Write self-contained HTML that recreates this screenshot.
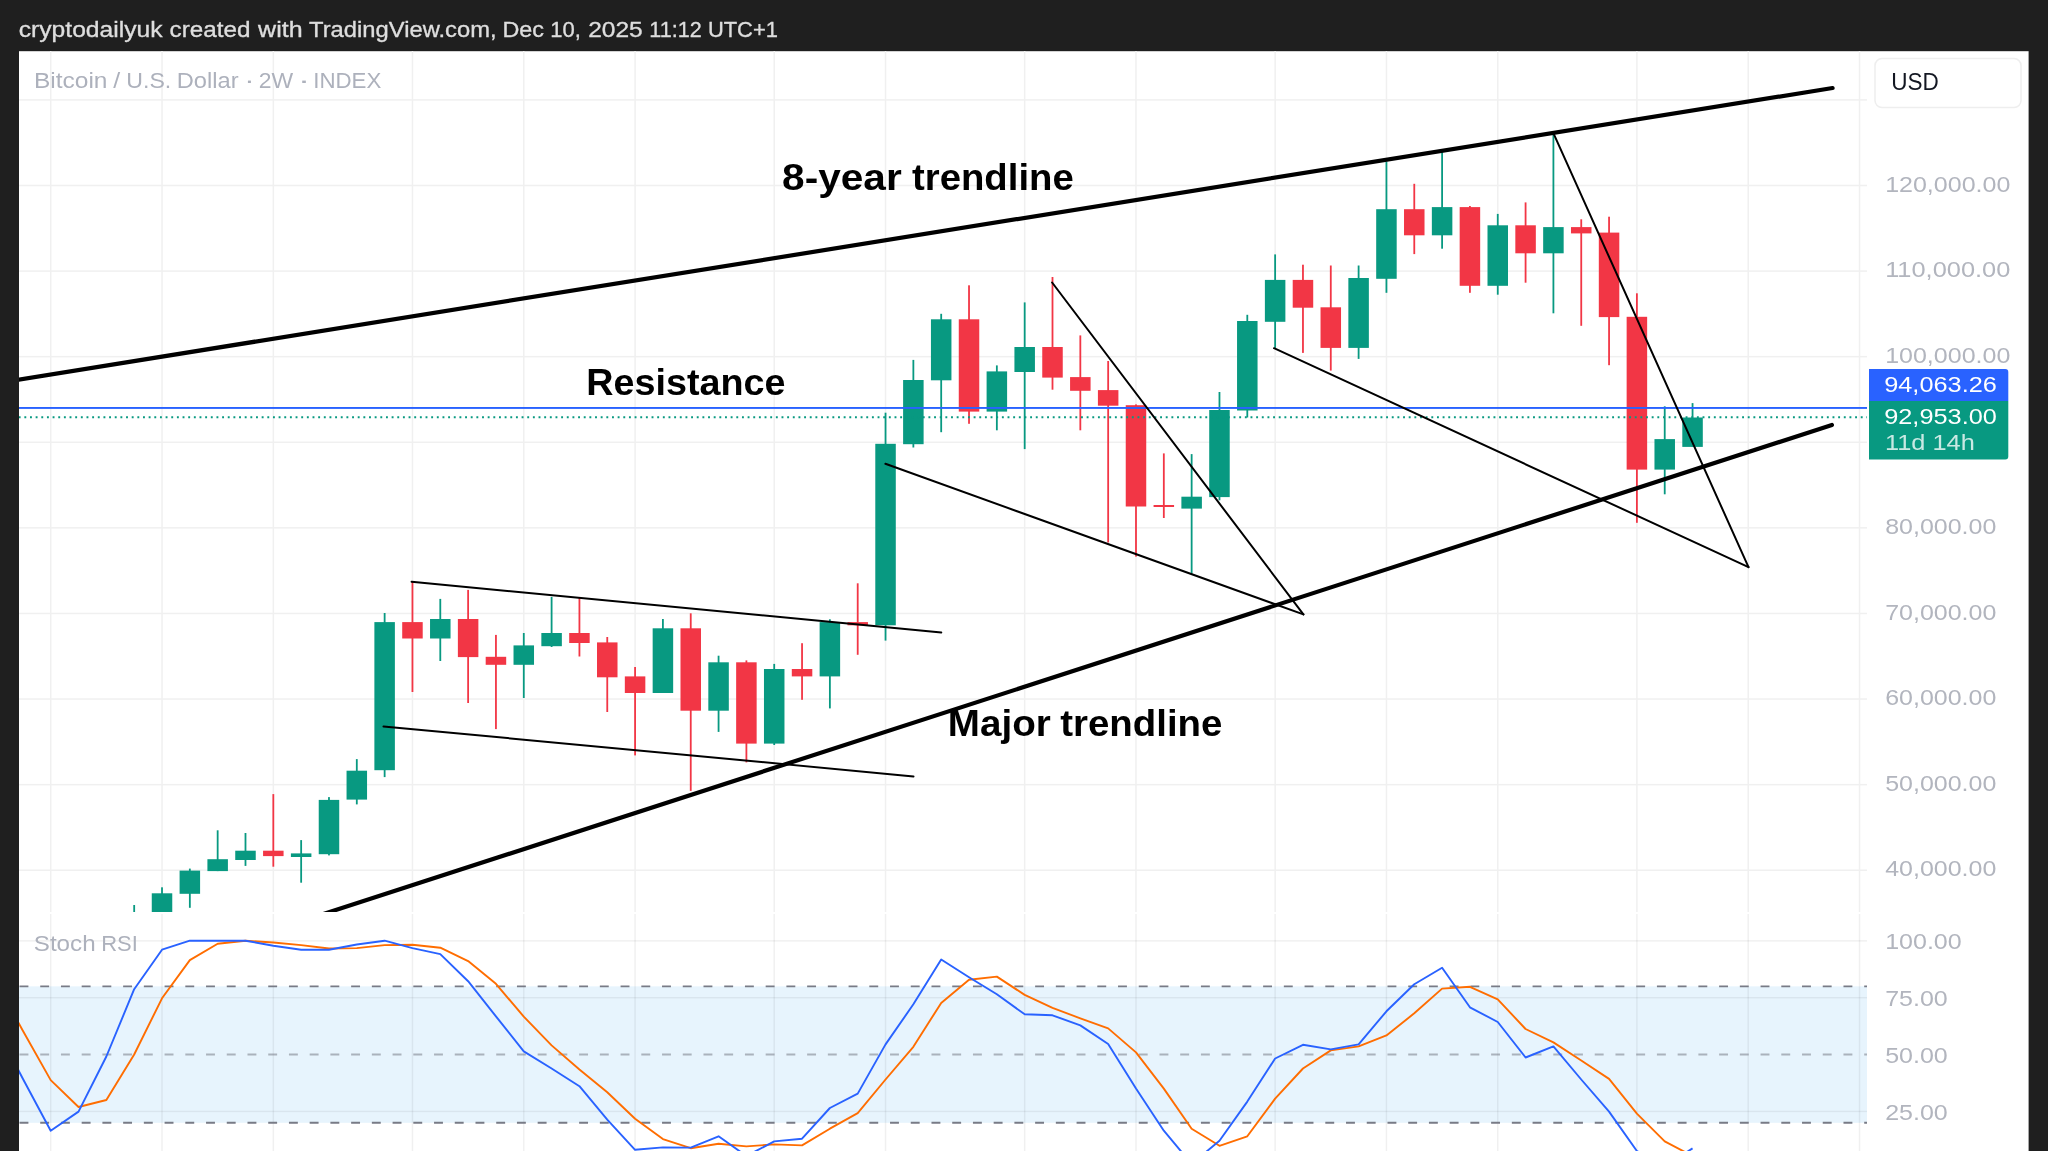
<!DOCTYPE html><html><head><meta charset="utf-8"><title>BTCUSD chart</title>
<style>html,body{margin:0;padding:0;background:#1f1f1f;overflow:hidden;width:2048px;height:1151px}svg{display:block;will-change:transform}text{font-family:"Liberation Sans",sans-serif}</style></head><body>
<svg width="2048" height="1151" viewBox="0 0 2048 1151">
<defs><clipPath id="cm"><rect x="19" y="51" width="1848" height="861"/></clipPath><clipPath id="cr"><rect x="19" y="914" width="1848" height="237"/></clipPath></defs>
<rect x="0" y="0" width="2048" height="1151" fill="#1f1f1f"/>
<text x="18.71" y="37.3" font-size="22.47" fill="#dedede" stroke="#dedede" stroke-width="0.35" textLength="143.93" lengthAdjust="spacingAndGlyphs">cryptodailyuk</text>
<text x="169.53" y="37.3" font-size="22.47" fill="#dedede" stroke="#dedede" stroke-width="0.35" textLength="80.86" lengthAdjust="spacingAndGlyphs">created</text>
<text x="258.1" y="37.3" font-size="22.47" fill="#dedede" stroke="#dedede" stroke-width="0.35" textLength="44.51" lengthAdjust="spacingAndGlyphs">with</text>
<text x="309.02" y="37.3" font-size="22.47" fill="#dedede" stroke="#dedede" stroke-width="0.35" textLength="187.58" lengthAdjust="spacingAndGlyphs">TradingView.com,</text>
<text x="502.43" y="37.3" font-size="22.47" fill="#dedede" stroke="#dedede" stroke-width="0.35" textLength="41.53" lengthAdjust="spacingAndGlyphs">Dec</text>
<text x="550.14" y="37.3" font-size="22.47" fill="#dedede" stroke="#dedede" stroke-width="0.35" textLength="30.65" lengthAdjust="spacingAndGlyphs">10,</text>
<text x="588.17" y="37.3" font-size="22.47" fill="#dedede" stroke="#dedede" stroke-width="0.35" textLength="54.52" lengthAdjust="spacingAndGlyphs">2025</text>
<text x="649.37" y="37.3" font-size="22.47" fill="#dedede" stroke="#dedede" stroke-width="0.35" textLength="52.37" lengthAdjust="spacingAndGlyphs">11:12</text>
<text x="707.95" y="37.3" font-size="22.47" fill="#dedede" stroke="#dedede" stroke-width="0.35" textLength="69.94" lengthAdjust="spacingAndGlyphs">UTC+1</text>
<rect x="19" y="51.2" width="2009.6" height="1100" fill="#ffffff"/>
<g clip-path="url(#cm)">
<rect x="49.95" y="51" width="1.5" height="861" fill="#f0f0f0"/>
<rect x="161.26" y="51" width="1.5" height="861" fill="#f0f0f0"/>
<rect x="272.57" y="51" width="1.5" height="861" fill="#f0f0f0"/>
<rect x="411.71" y="51" width="1.5" height="861" fill="#f0f0f0"/>
<rect x="523.02" y="51" width="1.5" height="861" fill="#f0f0f0"/>
<rect x="634.33" y="51" width="1.5" height="861" fill="#f0f0f0"/>
<rect x="773.47" y="51" width="1.5" height="861" fill="#f0f0f0"/>
<rect x="884.79" y="51" width="1.5" height="861" fill="#f0f0f0"/>
<rect x="1023.93" y="51" width="1.5" height="861" fill="#f0f0f0"/>
<rect x="1135.24" y="51" width="1.5" height="861" fill="#f0f0f0"/>
<rect x="1274.38" y="51" width="1.5" height="861" fill="#f0f0f0"/>
<rect x="1385.69" y="51" width="1.5" height="861" fill="#f0f0f0"/>
<rect x="1497.00" y="51" width="1.5" height="861" fill="#f0f0f0"/>
<rect x="1636.14" y="51" width="1.5" height="861" fill="#f0f0f0"/>
<rect x="1747.45" y="51" width="1.5" height="861" fill="#f0f0f0"/>
<rect x="1858.77" y="51" width="1.5" height="861" fill="#f0f0f0"/>
<rect x="19" y="869.47" width="1848" height="1.5" fill="#f0f0f0"/>
<rect x="19" y="783.88" width="1848" height="1.5" fill="#f0f0f0"/>
<rect x="19" y="698.29" width="1848" height="1.5" fill="#f0f0f0"/>
<rect x="19" y="612.70" width="1848" height="1.5" fill="#f0f0f0"/>
<rect x="19" y="527.11" width="1848" height="1.5" fill="#f0f0f0"/>
<rect x="19" y="441.52" width="1848" height="1.5" fill="#f0f0f0"/>
<rect x="19" y="355.93" width="1848" height="1.5" fill="#f0f0f0"/>
<rect x="19" y="270.34" width="1848" height="1.5" fill="#f0f0f0"/>
<rect x="19" y="184.75" width="1848" height="1.5" fill="#f0f0f0"/>
<rect x="19" y="99.16" width="1848" height="1.5" fill="#f0f0f0"/>
<rect x="19" y="13.57" width="1848" height="1.5" fill="#f0f0f0"/>
</g>
<g clip-path="url(#cr)">
<rect x="19" y="986.34" width="1848" height="136.46" fill="#e7f4fd"/>
<rect x="49.95" y="914" width="1.5" height="237" fill="#000" fill-opacity="0.06"/>
<rect x="161.26" y="914" width="1.5" height="237" fill="#000" fill-opacity="0.06"/>
<rect x="272.57" y="914" width="1.5" height="237" fill="#000" fill-opacity="0.06"/>
<rect x="411.71" y="914" width="1.5" height="237" fill="#000" fill-opacity="0.06"/>
<rect x="523.02" y="914" width="1.5" height="237" fill="#000" fill-opacity="0.06"/>
<rect x="634.33" y="914" width="1.5" height="237" fill="#000" fill-opacity="0.06"/>
<rect x="773.47" y="914" width="1.5" height="237" fill="#000" fill-opacity="0.06"/>
<rect x="884.79" y="914" width="1.5" height="237" fill="#000" fill-opacity="0.06"/>
<rect x="1023.93" y="914" width="1.5" height="237" fill="#000" fill-opacity="0.06"/>
<rect x="1135.24" y="914" width="1.5" height="237" fill="#000" fill-opacity="0.06"/>
<rect x="1274.38" y="914" width="1.5" height="237" fill="#000" fill-opacity="0.06"/>
<rect x="1385.69" y="914" width="1.5" height="237" fill="#000" fill-opacity="0.06"/>
<rect x="1497.00" y="914" width="1.5" height="237" fill="#000" fill-opacity="0.06"/>
<rect x="1636.14" y="914" width="1.5" height="237" fill="#000" fill-opacity="0.06"/>
<rect x="1747.45" y="914" width="1.5" height="237" fill="#000" fill-opacity="0.06"/>
<rect x="1858.77" y="914" width="1.5" height="237" fill="#000" fill-opacity="0.06"/>
<rect x="19" y="940.10" width="1848" height="1.5" fill="#000" fill-opacity="0.06"/>
<rect x="19" y="996.96" width="1848" height="1.5" fill="#000" fill-opacity="0.06"/>
<rect x="19" y="1110.68" width="1848" height="1.5" fill="#000" fill-opacity="0.06"/>
<line x1="19.5" y1="986.34" x2="1867" y2="986.34" stroke="#787b86" stroke-opacity="1.0" stroke-width="1.9" stroke-dasharray="8.9 11.827"/>
<line x1="19.5" y1="1054.57" x2="1867" y2="1054.57" stroke="#787b86" stroke-opacity="0.55" stroke-width="1.9" stroke-dasharray="8.9 11.827"/>
<line x1="19.5" y1="1122.80" x2="1867" y2="1122.80" stroke="#787b86" stroke-opacity="1.0" stroke-width="1.9" stroke-dasharray="8.9 11.827"/>
</g>
<g clip-path="url(#cm)">
<rect x="133.28" y="905.00" width="1.8" height="45.00" fill="#089981"/>
<rect x="123.93" y="913.00" width="20.5" height="27.00" fill="#089981"/>
<rect x="161.11" y="887.30" width="1.8" height="52.70" fill="#089981"/>
<rect x="151.76" y="893.30" width="20.5" height="36.70" fill="#089981"/>
<rect x="188.94" y="868.60" width="1.8" height="39.20" fill="#089981"/>
<rect x="179.59" y="870.60" width="20.5" height="23.20" fill="#089981"/>
<rect x="216.76" y="830.30" width="1.8" height="40.80" fill="#089981"/>
<rect x="207.41" y="859.20" width="20.5" height="11.90" fill="#089981"/>
<rect x="244.59" y="833.00" width="1.8" height="32.90" fill="#089981"/>
<rect x="235.24" y="850.70" width="20.5" height="9.30" fill="#089981"/>
<rect x="272.42" y="794.10" width="1.8" height="72.60" fill="#F23645"/>
<rect x="263.07" y="850.70" width="20.5" height="5.40" fill="#F23645"/>
<rect x="300.25" y="840.10" width="1.8" height="42.60" fill="#089981"/>
<rect x="290.90" y="853.40" width="20.5" height="3.60" fill="#089981"/>
<rect x="328.08" y="797.10" width="1.8" height="58.30" fill="#089981"/>
<rect x="318.73" y="799.90" width="20.5" height="54.30" fill="#089981"/>
<rect x="355.90" y="759.10" width="1.8" height="45.30" fill="#089981"/>
<rect x="346.55" y="770.70" width="20.5" height="28.90" fill="#089981"/>
<rect x="383.73" y="613.00" width="1.8" height="164.10" fill="#089981"/>
<rect x="374.38" y="622.10" width="20.5" height="148.10" fill="#089981"/>
<rect x="411.56" y="581.70" width="1.8" height="110.30" fill="#F23645"/>
<rect x="402.21" y="622.10" width="20.5" height="16.40" fill="#F23645"/>
<rect x="439.39" y="598.90" width="1.8" height="62.10" fill="#089981"/>
<rect x="430.04" y="619.00" width="20.5" height="19.50" fill="#089981"/>
<rect x="467.22" y="589.90" width="1.8" height="113.10" fill="#F23645"/>
<rect x="457.87" y="619.00" width="20.5" height="38.10" fill="#F23645"/>
<rect x="495.04" y="634.90" width="1.8" height="94.20" fill="#F23645"/>
<rect x="485.69" y="656.80" width="20.5" height="8.00" fill="#F23645"/>
<rect x="522.87" y="633.00" width="1.8" height="65.00" fill="#089981"/>
<rect x="513.52" y="645.40" width="20.5" height="19.40" fill="#089981"/>
<rect x="550.70" y="596.90" width="1.8" height="50.10" fill="#089981"/>
<rect x="541.35" y="633.00" width="20.5" height="13.20" fill="#089981"/>
<rect x="578.53" y="597.80" width="1.8" height="58.70" fill="#F23645"/>
<rect x="569.18" y="633.00" width="20.5" height="10.00" fill="#F23645"/>
<rect x="606.36" y="637.00" width="1.8" height="75.00" fill="#F23645"/>
<rect x="597.01" y="642.40" width="20.5" height="34.90" fill="#F23645"/>
<rect x="634.18" y="667.00" width="1.8" height="88.40" fill="#F23645"/>
<rect x="624.83" y="676.40" width="20.5" height="16.60" fill="#F23645"/>
<rect x="662.01" y="619.00" width="1.8" height="74.00" fill="#089981"/>
<rect x="652.66" y="628.30" width="20.5" height="64.70" fill="#089981"/>
<rect x="689.84" y="613.30" width="1.8" height="177.60" fill="#F23645"/>
<rect x="680.49" y="628.30" width="20.5" height="82.40" fill="#F23645"/>
<rect x="717.67" y="655.70" width="1.8" height="76.20" fill="#089981"/>
<rect x="708.32" y="662.30" width="20.5" height="48.40" fill="#089981"/>
<rect x="745.50" y="660.40" width="1.8" height="102.00" fill="#F23645"/>
<rect x="736.15" y="662.30" width="20.5" height="81.30" fill="#F23645"/>
<rect x="773.32" y="663.90" width="1.8" height="81.10" fill="#089981"/>
<rect x="763.97" y="669.00" width="20.5" height="74.60" fill="#089981"/>
<rect x="801.15" y="643.20" width="1.8" height="56.60" fill="#F23645"/>
<rect x="791.80" y="669.00" width="20.5" height="7.40" fill="#F23645"/>
<rect x="828.98" y="619.30" width="1.8" height="89.10" fill="#089981"/>
<rect x="819.63" y="622.10" width="20.5" height="54.30" fill="#089981"/>
<rect x="856.81" y="583.30" width="1.8" height="71.50" fill="#F23645"/>
<rect x="847.46" y="622.10" width="20.5" height="3.20" fill="#F23645"/>
<rect x="884.64" y="412.70" width="1.8" height="227.90" fill="#089981"/>
<rect x="875.29" y="443.80" width="20.5" height="181.50" fill="#089981"/>
<rect x="912.46" y="359.90" width="1.8" height="87.60" fill="#089981"/>
<rect x="903.11" y="380.00" width="20.5" height="64.20" fill="#089981"/>
<rect x="940.29" y="313.80" width="1.8" height="118.40" fill="#089981"/>
<rect x="930.94" y="319.30" width="20.5" height="61.00" fill="#089981"/>
<rect x="968.12" y="285.30" width="1.8" height="138.50" fill="#F23645"/>
<rect x="958.77" y="319.30" width="20.5" height="92.30" fill="#F23645"/>
<rect x="995.95" y="365.40" width="1.8" height="64.90" fill="#089981"/>
<rect x="986.60" y="371.40" width="20.5" height="40.20" fill="#089981"/>
<rect x="1023.78" y="302.40" width="1.8" height="146.70" fill="#089981"/>
<rect x="1014.43" y="347.00" width="20.5" height="25.00" fill="#089981"/>
<rect x="1051.60" y="277.00" width="1.8" height="112.70" fill="#F23645"/>
<rect x="1042.25" y="347.00" width="20.5" height="30.60" fill="#F23645"/>
<rect x="1079.43" y="335.40" width="1.8" height="94.90" fill="#F23645"/>
<rect x="1070.08" y="377.10" width="20.5" height="13.70" fill="#F23645"/>
<rect x="1107.26" y="361.00" width="1.8" height="181.50" fill="#F23645"/>
<rect x="1097.91" y="390.10" width="20.5" height="15.60" fill="#F23645"/>
<rect x="1135.09" y="404.40" width="1.8" height="152.20" fill="#F23645"/>
<rect x="1125.74" y="405.20" width="20.5" height="101.30" fill="#F23645"/>
<rect x="1162.92" y="453.40" width="1.8" height="64.60" fill="#F23645"/>
<rect x="1153.57" y="505.00" width="20.5" height="2.00" fill="#F23645"/>
<rect x="1190.74" y="454.10" width="1.8" height="119.60" fill="#089981"/>
<rect x="1181.39" y="496.70" width="20.5" height="11.90" fill="#089981"/>
<rect x="1218.57" y="392.00" width="1.8" height="108.30" fill="#089981"/>
<rect x="1209.22" y="410.00" width="20.5" height="87.10" fill="#089981"/>
<rect x="1246.40" y="314.80" width="1.8" height="102.70" fill="#089981"/>
<rect x="1237.05" y="321.00" width="20.5" height="89.50" fill="#089981"/>
<rect x="1274.23" y="254.40" width="1.8" height="93.50" fill="#089981"/>
<rect x="1264.88" y="279.90" width="20.5" height="41.90" fill="#089981"/>
<rect x="1302.06" y="264.70" width="1.8" height="88.20" fill="#F23645"/>
<rect x="1292.71" y="279.90" width="20.5" height="27.80" fill="#F23645"/>
<rect x="1329.88" y="265.50" width="1.8" height="105.10" fill="#F23645"/>
<rect x="1320.53" y="307.30" width="20.5" height="40.60" fill="#F23645"/>
<rect x="1357.71" y="265.50" width="1.8" height="93.40" fill="#089981"/>
<rect x="1348.36" y="278.00" width="20.5" height="69.90" fill="#089981"/>
<rect x="1385.54" y="161.50" width="1.8" height="131.30" fill="#089981"/>
<rect x="1376.19" y="209.20" width="20.5" height="69.60" fill="#089981"/>
<rect x="1413.37" y="183.80" width="1.8" height="70.30" fill="#F23645"/>
<rect x="1404.02" y="209.20" width="20.5" height="26.10" fill="#F23645"/>
<rect x="1441.20" y="152.10" width="1.8" height="96.60" fill="#089981"/>
<rect x="1431.85" y="207.10" width="20.5" height="28.20" fill="#089981"/>
<rect x="1469.02" y="206.00" width="1.8" height="86.80" fill="#F23645"/>
<rect x="1459.67" y="207.10" width="20.5" height="78.70" fill="#F23645"/>
<rect x="1496.85" y="213.90" width="1.8" height="80.80" fill="#089981"/>
<rect x="1487.50" y="225.30" width="20.5" height="60.50" fill="#089981"/>
<rect x="1524.68" y="202.40" width="1.8" height="80.30" fill="#F23645"/>
<rect x="1515.33" y="225.30" width="20.5" height="28.00" fill="#F23645"/>
<rect x="1552.51" y="134.10" width="1.8" height="179.20" fill="#089981"/>
<rect x="1543.16" y="227.10" width="20.5" height="26.20" fill="#089981"/>
<rect x="1580.34" y="219.30" width="1.8" height="106.50" fill="#F23645"/>
<rect x="1570.99" y="227.10" width="20.5" height="6.30" fill="#F23645"/>
<rect x="1608.16" y="216.70" width="1.8" height="148.50" fill="#F23645"/>
<rect x="1598.81" y="232.60" width="20.5" height="84.50" fill="#F23645"/>
<rect x="1635.99" y="293.30" width="1.8" height="229.50" fill="#F23645"/>
<rect x="1626.64" y="316.80" width="20.5" height="152.80" fill="#F23645"/>
<rect x="1663.82" y="406.30" width="1.8" height="88.00" fill="#089981"/>
<rect x="1654.47" y="439.10" width="20.5" height="30.50" fill="#089981"/>
<rect x="1691.65" y="403.10" width="1.8" height="43.80" fill="#089981"/>
<rect x="1682.30" y="417.50" width="20.5" height="29.40" fill="#089981"/>
</g>
<g clip-path="url(#cm)">
<rect x="19" y="407" width="1848" height="1.9" fill="#2962ff"/>
<line x1="18.7" y1="417.3" x2="1867" y2="417.3" stroke="#089981" stroke-width="1.9" stroke-dasharray="1.9 3.7505"/>
</g>
<g clip-path="url(#cm)" stroke="#000" fill="none" stroke-linecap="round">
<line x1="0" y1="382.66" x2="1832.6" y2="88" stroke-width="4.2"/>
<line x1="289.5" y1="925" x2="1831.9" y2="425" stroke-width="4.2"/>
<line x1="411.6" y1="581.7" x2="941.3" y2="632.5" stroke-width="2"/>
<line x1="383.5" y1="726.4" x2="913.5" y2="776.4" stroke-width="2"/>
<line x1="1052.1" y1="282.5" x2="1303.4" y2="614.4" stroke-width="2"/>
<line x1="885.4" y1="463.8" x2="1303.4" y2="614.4" stroke-width="2"/>
<line x1="1553.5" y1="133.3" x2="1748.5" y2="567.1" stroke-width="2"/>
<line x1="1274" y1="348.2" x2="1748.5" y2="567.1" stroke-width="2"/>
</g>
<text x="782.08" y="190.3" font-size="37.0" font-weight="bold" fill="#000" textLength="119.6" lengthAdjust="spacingAndGlyphs">8-year</text>
<text x="912.02" y="190.3" font-size="37.0" font-weight="bold" fill="#000" textLength="161.73" lengthAdjust="spacingAndGlyphs">trendline</text>
<text x="586.36" y="394.6" font-size="37.0" font-weight="bold" fill="#000" textLength="199.2" lengthAdjust="spacingAndGlyphs">Resistance</text>
<text x="947.8" y="736.4" font-size="37.0" font-weight="bold" fill="#000" textLength="102.96" lengthAdjust="spacingAndGlyphs">Major</text>
<text x="1060.32" y="736.4" font-size="37.0" font-weight="bold" fill="#000" textLength="162.04" lengthAdjust="spacingAndGlyphs">trendline</text>
<g clip-path="url(#cr)" fill="none" stroke-width="1.9" stroke-linejoin="round">
<polyline points="-4.96,980.60 22.87,1030.80 50.70,1080.10 78.52,1107.00 106.35,1100.00 134.18,1054.50 162.01,998.30 189.84,960.10 217.66,943.70 245.49,940.70 273.32,942.50 301.15,945.10 328.98,948.50 356.80,948.10 384.63,945.10 412.46,944.70 440.29,947.70 468.12,961.10 495.94,983.80 523.77,1016.70 551.60,1045.40 579.43,1069.50 607.26,1092.20 635.08,1118.70 662.91,1139.10 690.74,1148.20 718.57,1143.80 746.40,1146.40 774.22,1144.40 802.05,1145.40 829.88,1128.70 857.71,1113.10 885.54,1079.50 913.36,1046.80 941.19,1002.90 969.02,979.80 996.85,976.60 1024.68,994.90 1052.50,1007.90 1080.33,1018.30 1108.16,1028.40 1135.99,1052.40 1163.82,1088.60 1191.64,1128.70 1219.47,1145.80 1247.30,1136.30 1275.13,1098.60 1302.96,1068.50 1330.78,1050.40 1358.61,1046.40 1386.44,1035.40 1414.27,1013.30 1442.10,988.60 1469.92,986.80 1497.75,999.30 1525.58,1029.00 1553.41,1042.40 1581.24,1060.50 1609.06,1078.90 1636.89,1113.70 1664.72,1141.40 1692.55,1156.00" stroke="#ff6d00"/>
<polyline points="-4.96,1025.80 22.87,1078.70 50.70,1130.70 78.52,1111.60 106.35,1056.50 134.18,989.20 162.01,949.70 189.84,940.70 217.66,940.70 245.49,940.70 273.32,945.70 301.15,949.70 328.98,949.70 356.80,944.50 384.63,940.70 412.46,948.10 440.29,954.10 468.12,981.20 495.94,1016.30 523.77,1051.40 551.60,1068.50 579.43,1086.20 607.26,1119.70 635.08,1149.80 662.91,1147.40 690.74,1147.60 718.57,1136.30 746.40,1156.00 774.22,1141.40 802.05,1138.70 829.88,1108.00 857.71,1093.60 885.54,1044.40 913.36,1004.30 941.19,959.50 969.02,977.20 996.85,994.30 1024.68,1014.30 1052.50,1015.30 1080.33,1025.40 1108.16,1044.00 1135.99,1088.60 1163.82,1130.70 1191.64,1164.00 1219.47,1140.70 1247.30,1101.60 1275.13,1058.50 1302.96,1044.80 1330.78,1049.40 1358.61,1044.40 1386.44,1011.30 1414.27,984.20 1442.10,967.80 1469.92,1007.30 1497.75,1022.00 1525.58,1057.50 1553.41,1046.40 1581.24,1079.50 1609.06,1111.60 1636.89,1151.00 1664.72,1166.00 1692.55,1148.40" stroke="#2962ff"/>
</g>
<text x="33.94" y="88.2" font-size="21.64" fill="#adb1bc" textLength="73.57" lengthAdjust="spacingAndGlyphs">Bitcoin</text>
<text x="113.3" y="88.2" font-size="21.64" fill="#adb1bc" textLength="6.95" lengthAdjust="spacingAndGlyphs">/</text>
<text x="126.35" y="88.2" font-size="21.64" fill="#adb1bc" textLength="44.94" lengthAdjust="spacingAndGlyphs">U.S.</text>
<text x="176.81" y="88.2" font-size="21.64" fill="#adb1bc" textLength="61.77" lengthAdjust="spacingAndGlyphs">Dollar</text>
<text x="244.27" y="88.2" font-size="21.64" fill="#adb1bc" textLength="10.36" lengthAdjust="spacingAndGlyphs">·</text>
<text x="258.85" y="88.2" font-size="21.64" fill="#adb1bc" textLength="34.38" lengthAdjust="spacingAndGlyphs">2W</text>
<text x="297.67" y="88.2" font-size="21.64" fill="#adb1bc" textLength="12.58" lengthAdjust="spacingAndGlyphs">·</text>
<text x="313.19" y="88.2" font-size="21.64" fill="#adb1bc" textLength="68.09" lengthAdjust="spacingAndGlyphs">INDEX</text>
<text x="33.79" y="951.0" font-size="21.23" fill="#adb1bc" textLength="61.83" lengthAdjust="spacingAndGlyphs">Stoch</text>
<text x="101.24" y="951.0" font-size="21.23" fill="#adb1bc" textLength="36.67" lengthAdjust="spacingAndGlyphs">RSI</text>
<text x="1885.15" y="876.42" font-size="22.7" fill="#b2b5be" textLength="111.20" lengthAdjust="spacingAndGlyphs">40,000.00</text>
<text x="1885.15" y="790.83" font-size="22.7" fill="#b2b5be" textLength="111.20" lengthAdjust="spacingAndGlyphs">50,000.00</text>
<text x="1885.15" y="705.24" font-size="22.7" fill="#b2b5be" textLength="111.20" lengthAdjust="spacingAndGlyphs">60,000.00</text>
<text x="1885.15" y="619.65" font-size="22.7" fill="#b2b5be" textLength="111.20" lengthAdjust="spacingAndGlyphs">70,000.00</text>
<text x="1885.15" y="534.06" font-size="22.7" fill="#b2b5be" textLength="111.20" lengthAdjust="spacingAndGlyphs">80,000.00</text>
<text x="1885.15" y="448.47" font-size="22.7" fill="#b2b5be" textLength="111.20" lengthAdjust="spacingAndGlyphs">90,000.00</text>
<text x="1885.15" y="362.88" font-size="22.7" fill="#b2b5be" textLength="125.20" lengthAdjust="spacingAndGlyphs">100,000.00</text>
<text x="1885.15" y="277.29" font-size="22.7" fill="#b2b5be" textLength="125.20" lengthAdjust="spacingAndGlyphs">110,000.00</text>
<text x="1885.15" y="191.70" font-size="22.7" fill="#b2b5be" textLength="125.20" lengthAdjust="spacingAndGlyphs">120,000.00</text>
<text x="1885.15" y="949.45" font-size="22.7" fill="#b2b5be" textLength="76.60" lengthAdjust="spacingAndGlyphs">100.00</text>
<text x="1885.15" y="1006.31" font-size="22.7" fill="#b2b5be" textLength="62.60" lengthAdjust="spacingAndGlyphs">75.00</text>
<text x="1885.15" y="1063.17" font-size="22.7" fill="#b2b5be" textLength="62.60" lengthAdjust="spacingAndGlyphs">50.00</text>
<text x="1885.15" y="1120.03" font-size="22.7" fill="#b2b5be" textLength="62.60" lengthAdjust="spacingAndGlyphs">25.00</text>
<rect x="1875" y="58.6" width="146" height="49" rx="7" ry="7" fill="#fff" stroke="#eeeeee" stroke-width="1.5"/>
<text x="1891.2" y="90.3" font-size="23.14" fill="#131722" textLength="47.56" lengthAdjust="spacingAndGlyphs">USD</text>
<path d="M1869,369 H2005.3 a3,3 0 0 1 3,3 V401 H1869 Z" fill="#2962ff"/>
<path d="M1869,401 H2008.3 V456.6 a3,3 0 0 1 -3,3 H1869 Z" fill="#089981"/>
<text x="1884.23" y="391.8" font-size="22.29" fill="#fff" textLength="112.6" lengthAdjust="spacingAndGlyphs">94,063.26</text>
<text x="1884.23" y="423.9" font-size="22.29" fill="#fff" textLength="112.6" lengthAdjust="spacingAndGlyphs">92,953.00</text>
<text x="1884.97" y="449.7" font-size="21.37" fill="#fff" fill-opacity="0.78" textLength="89.77" lengthAdjust="spacingAndGlyphs">11d 14h</text>
</svg></body></html>
